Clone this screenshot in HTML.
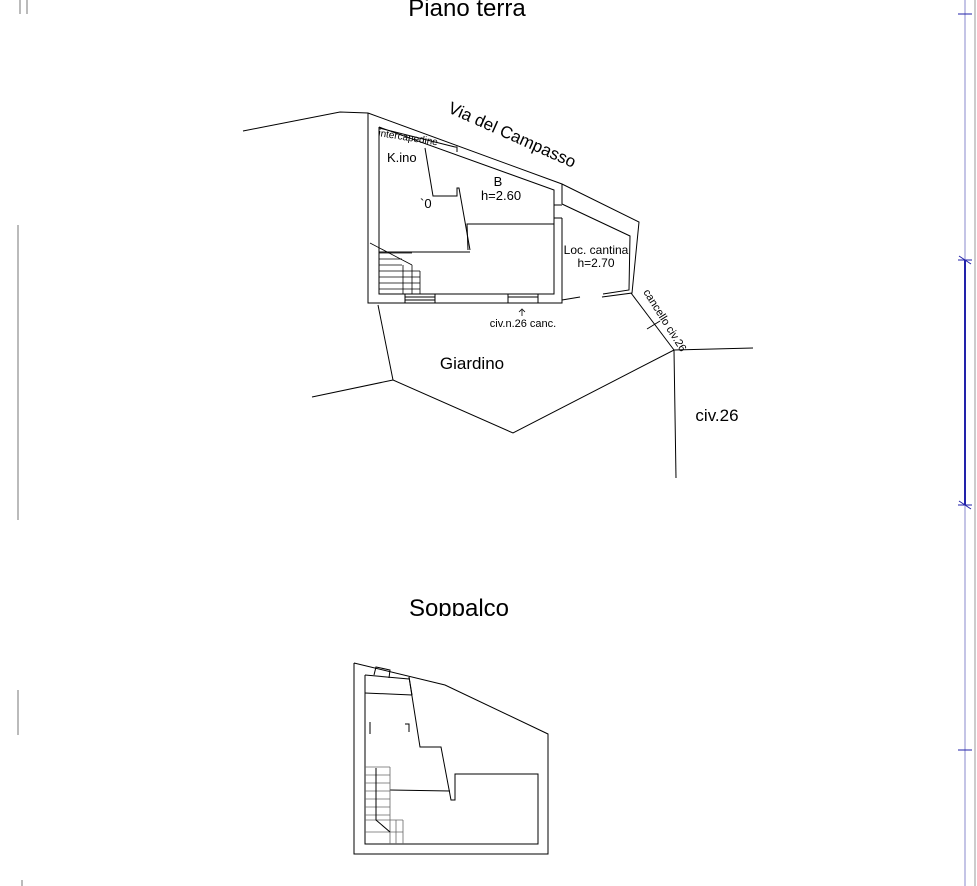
<!DOCTYPE html>
<html><head><meta charset="utf-8"><style>
html,body{margin:0;padding:0;background:#fff;width:977px;height:886px;overflow:hidden}
svg{display:block}
text{font-family:"Liberation Sans",sans-serif;fill:#000}
</style></head><body>
<svg width="977" height="886" viewBox="0 0 977 886" xmlns="http://www.w3.org/2000/svg">
<g stroke="#000" stroke-width="1" fill="none">
<polyline points="243,131 340,112 368,113"/>
<polyline points="378,305 393,380 513,433 674,350 753,348"/>
<line x1="312" y1="397" x2="393" y2="380"/>
<line x1="674" y1="350" x2="676" y2="478"/>
<line x1="631" y1="293" x2="674" y2="350"/>
<line x1="647" y1="329" x2="660" y2="321"/>
<polyline points="368,113 368,303 562,303 562,297"/>
<polyline points="368,113 562,184 639,222 632,293 602,297"/>
<polyline points="562,184 562,204"/>
<polyline points="562,218 562,297"/>
<polyline points="562,204 630,236 629,290 603,294"/>
<polyline points="379,127 379,294 554,294 554,190 379,127"/>
<line x1="554" y1="205" x2="562" y2="205"/>
<line x1="554" y1="218" x2="562" y2="218"/>
<polyline points="425,148 433,196 457,196 457,188 459,188 470,250"/>
<polyline points="468,250 467,224 554,224"/>
<line x1="379" y1="252" x2="470" y2="252"/>
<line x1="379" y1="128" x2="455" y2="147"/>
<polyline points="455,147 457,147 457,152"/>
<polyline points="405,294 405,303"/><polyline points="435,294 435,303"/>
<line x1="405" y1="297" x2="435" y2="297"/><line x1="405" y1="300" x2="435" y2="300"/>
<polyline points="508,294 508,303"/><polyline points="538,294 538,303"/>
<line x1="508" y1="297" x2="538" y2="297"/>
<line x1="562" y1="300" x2="580" y2="297"/>
<g stroke-width="0.8">
<line x1="370" y1="243" x2="412" y2="265"/>
<line x1="379" y1="253" x2="412" y2="253"/>
<line x1="379" y1="259" x2="402" y2="259"/>
<line x1="379" y1="265" x2="402" y2="265"/>
<line x1="379" y1="271" x2="420" y2="271"/>
<line x1="379" y1="277" x2="420" y2="277"/>
<line x1="379" y1="283" x2="420" y2="283"/>
<line x1="379" y1="289" x2="420" y2="289"/>
<line x1="403" y1="265" x2="403" y2="294"/>
<line x1="412" y1="265" x2="412" y2="294"/>
<line x1="420" y1="271" x2="420" y2="294"/>
</g>
<path d="M522,316 v-6 M519,312 l3,-3 l3,3" stroke-width="0.8"/>
<polyline points="354,663 354,854 548,854 548,734 445,685 354,663"/>
<polyline points="365,675 365,844 538,844 538,774 455,774 455,800 451,800 441,747 420,747 409,677"/>
<line x1="365" y1="675" x2="409" y2="679"/>
<line x1="365" y1="693" x2="412" y2="695"/>
<polyline points="409,677 412,695"/>
<line x1="390" y1="790" x2="450" y2="791"/>
<polyline points="374,675 376,667 390,670 389,678"/>
<line x1="370" y1="722" x2="370" y2="734"/>
<polyline points="405,724 409,724 409,732"/>
<g stroke="#666" stroke-width="0.8">
<line x1="365" y1="767" x2="390" y2="767"/>
<line x1="365" y1="775" x2="390" y2="775"/>
<line x1="365" y1="783" x2="390" y2="783"/>
<line x1="365" y1="791" x2="390" y2="791"/>
<line x1="365" y1="799" x2="390" y2="799"/>
<line x1="365" y1="807" x2="390" y2="807"/>
<line x1="365" y1="815" x2="390" y2="815"/>
<line x1="365" y1="820" x2="403" y2="820"/>
<line x1="365" y1="832" x2="403" y2="832"/>
<line x1="390" y1="767" x2="390" y2="844"/>
<line x1="396" y1="820" x2="396" y2="844"/>
<line x1="403" y1="820" x2="403" y2="844"/>
</g>
<polyline points="376,768 376,820 390,832" stroke="#000"/>
<g stroke="#777">
<line x1="18" y1="225" x2="18" y2="520"/>
<line x1="18" y1="690" x2="18" y2="735"/>
<line x1="20" y1="0" x2="20" y2="14"/>
<line x1="27" y1="0" x2="27" y2="14"/>
<line x1="22" y1="880" x2="22" y2="886"/>
</g>
<line x1="965" y1="0" x2="965" y2="886" stroke="#8888cc"/>
<line x1="975" y1="0" x2="975" y2="886" stroke="#999"/>
<line x1="965" y1="260" x2="965" y2="505" stroke="#2222aa" stroke-width="2"/>
<g stroke="#2222aa">
<line x1="958" y1="14" x2="972" y2="14"/>
<line x1="958" y1="750" x2="972" y2="750"/>
<line x1="959" y1="256" x2="971" y2="264"/>
<line x1="958" y1="260" x2="972" y2="260"/>
<line x1="959" y1="501" x2="971" y2="509"/>
<line x1="958" y1="505" x2="972" y2="505"/>
</g>
</g>
<text x="467" y="16" font-size="24" text-anchor="middle">Piano terra</text>
<text x="459" y="616" font-size="24" text-anchor="middle">Soppalco</text>
<rect x="380" y="616" width="160" height="10" fill="#fff"/>
<text x="0" y="0" font-size="17" transform="translate(447,112) rotate(24)">Via del Campasso</text>
<text x="0" y="0" font-size="10" transform="translate(378,136) rotate(9)">intercapedine</text>
<text x="387" y="162" font-size="13">K.ino</text>
<text x="420" y="208" font-size="13">`0</text>
<text x="498" y="186" font-size="13" text-anchor="middle">B</text>
<text x="501" y="200" font-size="13" text-anchor="middle">h=2.60</text>
<text x="596" y="254" font-size="12" text-anchor="middle">Loc. cantina</text>
<text x="596" y="267" font-size="12" text-anchor="middle">h=2.70</text>
<text x="523" y="327" font-size="11" text-anchor="middle">civ.n.26 canc.</text>
<text x="0" y="0" font-size="11" transform="translate(643,292) rotate(58)">cancello civ.26</text>
<text x="472" y="369" font-size="17" text-anchor="middle">Giardino</text>
<text x="717" y="421" font-size="17" text-anchor="middle">civ.26</text>
</svg>
</body></html>
